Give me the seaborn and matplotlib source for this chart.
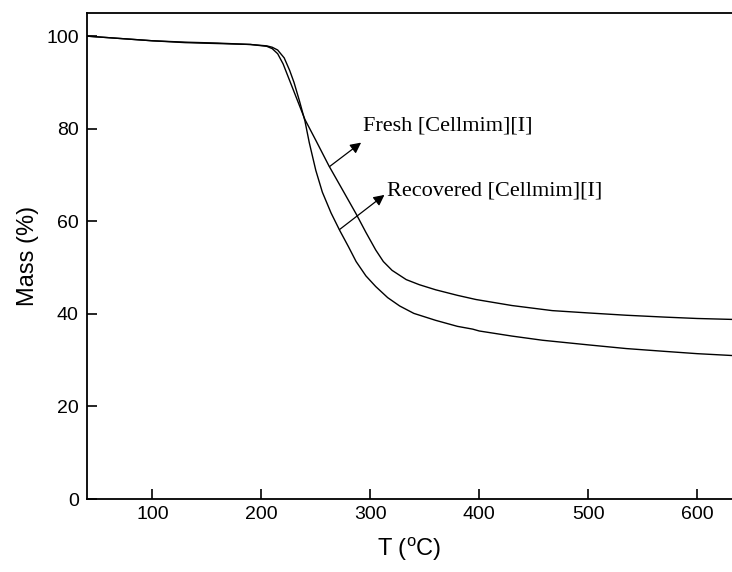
import numpy as np
import pandas as pd
import matplotlib
matplotlib.use("Agg")
import matplotlib.pyplot as plt
import seaborn as sns

# values
fresh_T = [40, 70, 100, 130, 160, 190, 205, 210, 215, 220, 225, 232, 240, 250, 262, 275, 287, 296,
           305, 312, 320, 333, 345, 360, 380, 397, 430, 467, 500, 535, 570, 600, 632]
fresh_M = [100, 99.5, 99.0, 98.7, 98.5, 98.2, 97.8, 97.3, 96.2, 94.0, 91.0, 86.8, 82.0, 77.5, 72.0, 66.6, 61.6, 57.6,
           53.8, 51.3, 49.4, 47.4, 46.3, 45.2, 44.0, 43.1, 41.8, 40.7, 40.2, 39.7, 39.3, 39.0, 38.8]

rec_T = [40, 70, 100, 130, 160, 190, 205, 210, 215, 221, 226, 230, 235, 240, 244, 250, 256, 264,
         272, 280, 287, 296, 305, 316, 327, 340, 360, 380, 394, 400, 430, 458, 500, 535, 570, 600, 632]
rec_M = [100, 99.5, 99.0, 98.6, 98.4, 98.2, 97.9, 97.6, 97.0, 95.3, 92.6, 90.0, 86.0, 81.7, 77.0, 71.0, 66.3, 61.8,
         58.0, 54.5, 51.3, 48.2, 45.9, 43.5, 41.7, 40.1, 38.6, 37.3, 36.7, 36.3, 35.2, 34.3, 33.3, 32.5, 31.9, 31.4, 31.0]

labels = ["Fresh [Cellmim][I]", "Recovered [Cellmim][I]"]
# arrow tail on the curve, head near the text, text anchor
arrow_tails = [(262.5, 71.8), (271.7, 58.2)]
arrow_heads = [(291.6, 77.0), (313.0, 65.7)]
text_pos = [(293.0, 80.6), (315.0, 66.6)]

sns.set_style("ticks")
plt.rcParams["font.family"] = ["Liberation Sans", "DejaVu Sans"]
plt.rcParams["mathtext.default"] = "regular"
plt.rcParams["text.color"] = "black"
plt.rcParams["axes.labelcolor"] = "black"
plt.rcParams["xtick.color"] = "black"
plt.rcParams["ytick.color"] = "black"
plt.rcParams["axes.edgecolor"] = "black"

fig = plt.figure(figsize=(7.32, 5.72), dpi=100)
ax = fig.add_axes([87 / 732, 73 / 572, 645 / 732, 486 / 572])

df_f = pd.DataFrame({"T": fresh_T, "Mass": fresh_M})
df_r = pd.DataFrame({"T": rec_T, "Mass": rec_M})
sns.lineplot(data=df_f, x="T", y="Mass", color="black", lw=1.0, ax=ax)
sns.lineplot(data=df_r, x="T", y="Mass", color="black", lw=1.0, ax=ax)

for lab, tail, head, pos in zip(labels, arrow_tails, arrow_heads, text_pos):
    ax.annotate("", xy=head, xytext=tail,
                arrowprops=dict(arrowstyle="-|>", color="black", lw=0.9, mutation_scale=16,
                                shrinkA=0, shrinkB=0))
    ax.text(pos[0], pos[1], lab, family="Liberation Serif", fontsize=16, va="center", ha="left",
            color="black")

ax.set_xlim(40, 632)
ax.set_ylim(0, 105)
ax.set_xticks([100, 200, 300, 400, 500, 600])
ax.set_yticks([0, 20, 40, 60, 80, 100])
ax.tick_params(direction="in", length=7, width=1.2, labelsize=14, pad=6)
ax.tick_params(axis="x", pad=5)
for side in ["left", "bottom", "top"]:
    ax.spines[side].set_linewidth(1.3)
ax.spines["right"].set_visible(False)
ax.set_xlabel(r"T ($^{o}$C)", fontsize=17, labelpad=9)
ax.set_ylabel("Mass (%)", fontsize=17, labelpad=5)

fig.savefig("out.png", dpi=100)
